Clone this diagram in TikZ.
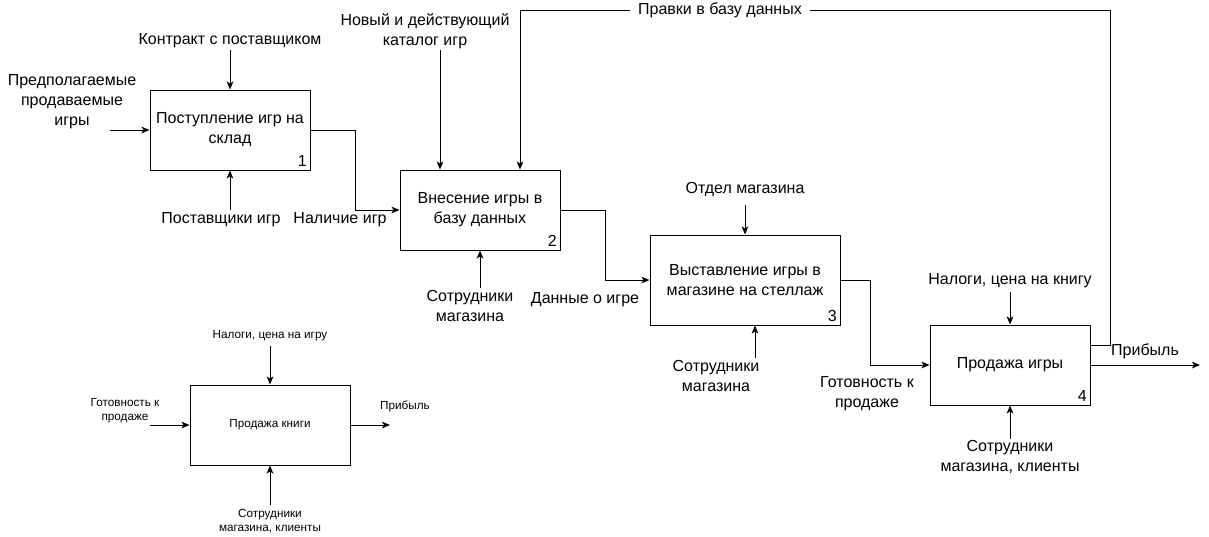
\documentclass[tikz,border=0pt]{standalone}
\usepackage{fontspec}
\setmainfont{Liberation Sans}
\usetikzlibrary{arrows.meta,calc}
\newcommand{\mainsz}{\fontsize{12}{15}\selectfont}
\newcommand{\smallsz}{\fontsize{8.8}{10.5}\selectfont}
\tikzset{
	func/.style={draw, minimum width=120pt, minimum height=60pt,
			align=center, font=\mainsz},
	lbl/.style={align=center, inner sep=1pt, font=\mainsz},
	sm/.style={align=center, inner sep=1pt, font=\smallsz},
	num/.style={anchor=south east, inner sep=2.5pt, font=\mainsz}
}
\begin{document}
\begin{tikzpicture}[x=0.75pt,y=-0.75pt,line width=0.75pt,
		>={Stealth[length=6pt,width=5pt,inset=1.5pt]}]
	\useasboundingbox (0,0) rectangle (1209,536);

	% Function blocks
	\node[func] (b1) at (230,130) {Поступление игр на\\склад};
	\node[func] (b2) at (480,210) {Внесение игры в\\базу данных};
	\node[func, minimum width=142.5pt, minimum height=67.5pt] (b3) at (745,280) {Выставление игры в\\магазине на стеллаж};
	\node[func] (b4) at (1010,365) {Продажа игры};
	\node[func, font=\smallsz] (b5) at (270,425) {Продажа книги};
	\foreach \b/\n in {b1/1,b2/2,b3/3,b4/4}
		\node[num] (n\n) at (\b.south east) {\n};

	% Block 1
	\node[lbl] (c1) at (230,41) {Контракт с поставщиком};
	\node[lbl] (i1l) at (72,102) {Предполагаемые\\продаваемые\\игры};
	\coordinate (i1) at (110,130);
	\node[lbl] (m1) at (221,220) {Поставщики игр};
	\coordinate (m1a) at (230,210);
	\node[lbl] (o1) at (340,220) {Наличие игр};
	\draw[->] (c1) -- (b1);
	\draw[->] (i1) -- (b1);
	\draw[->] (m1a) -- (m1a |- b1.south);
	\draw[->] (b1.east) -- ++(45,0) |- (b2.west);

	% Block 2
	\node[lbl] (c2) at (425,31) {Новый и действующий\\каталог игр};
	\coordinate (c2a) at (440,50);
	\node[lbl] (m2) at (470,306) {Сотрудники\\магазина};
	\coordinate (m2a) at (480,288);
	\node[lbl] (o2) at (585,300) {Данные о игре};
	\draw[->] (c2a) -- (c2a |- b2.north);
	\draw[->] (m2a) -- (m2a |- b2.south);
	\draw[->] (b2.east) -- ++(45,0) |- (b3.west);

	% Block 3
	\node[lbl] (c3) at (745,190) {Отдел магазина};
	\coordinate (c3a) at (745,205);
	\node[lbl] (m3) at (716,376) {Сотрудники\\магазина};
	\coordinate (m3a) at (755,358);
	\node[lbl] (o3) at (867,394) {Готовность к\\продаже};
	\draw[->] (c3a) -- (b3);
	\draw[->] (m3a) -- (m3a |- b3.south);
	\draw[->] (b3.east) -- ++(30,0) |- (b4.west);

	% Block 4
	\node[lbl] (c4) at (1010,281) {Налоги, цена на книгу};
	\coordinate (c4a) at (1010,292);
	\node[lbl] (m4) at (1010,457) {Сотрудники\\магазина, клиенты};
	\node[lbl] (o4) at (1145,351) {Прибыль};
	\coordinate (o4a) at (1200,365);
	\draw[->] (c4a) -- (b4);
	\draw[->] (m4) -- (b4);
	\draw[->] (b4.east) -- (o4a);

	% Feedback to block 2
	\node[lbl, inner xsep=6pt] (fb) at (720,10) {Правки в базу данных};
	\coordinate (fbr) at (1110,10);
	\coordinate (fbl) at (520,10);
	\draw ($(b4.east)+(0,-20)$) -| (fbr) -- (fb.east);
	\draw[->] (fb.west) -- (fbl) -- (fbl |- b2.north);

	% Block 5
	\node[sm] (c5) at (270,336) {Налоги, цена на игру};
	\coordinate (c5a) at (270,346);
	\node[sm] (i5l) at (125,411) {Готовность к\\продаже};
	\coordinate (i5) at (150,425);
	\node[sm] (o5l) at (405,406) {Прибыль};
	\coordinate (o5) at (390,425);
	\node[sm] (m5) at (270,521) {Сотрудники\\магазина, клиенты};
	\coordinate (m5a) at (270,505);
	\draw[->] (c5a) -- (b5);
	\draw[->] (i5) -- (b5);
	\draw[->] (b5) -- (o5);
	\draw[->] (m5a) -- (b5);
\end{tikzpicture}
\end{document}
